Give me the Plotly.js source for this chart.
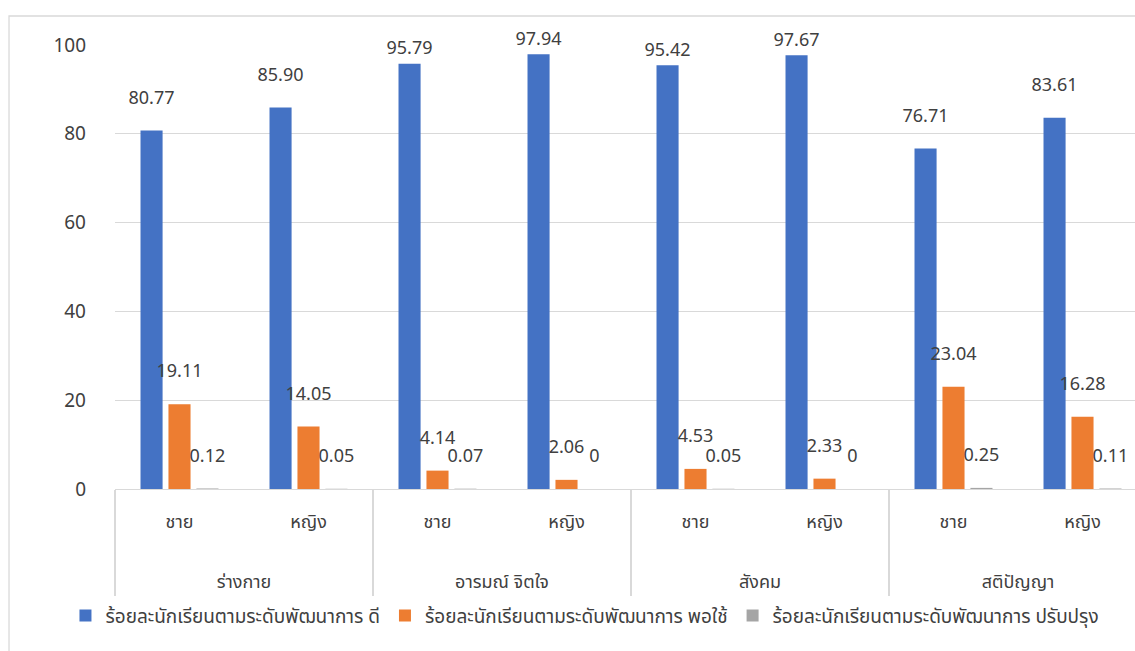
<!DOCTYPE html>
<html>
<head>
<meta charset="utf-8">
<script src="https://cdn.plot.ly/plotly-3.0.1.min.js"></script>
<style>
  html, body { margin: 0; padding: 0; overflow: hidden; background: #ffffff; }
  #chart { position: absolute; left: 0; top: 0; width: 1200px; height: 651px; }
</style>
</head>
<body>
<div id="chart"></div>
<script>
// ---- data ----
const domains = ["ร่างกาย", "ร่างกาย", "อารมณ์ จิตใจ", "อารมณ์ จิตใจ", "สังคม", "สังคม", "สติปัญญา", "สติปัญญา"];
const sexes = ["ชาย", "หญิง", "ชาย", "หญิง", "ชาย", "หญิง", "ชาย", "หญิง"];
const seriesNames = [
  "ร้อยละนักเรียนตามระดับพัฒนาการ ดี",
  "ร้อยละนักเรียนตามระดับพัฒนาการ พอใช้",
  "ร้อยละนักเรียนตามระดับพัฒนาการ ปรับปรุง"
];
const good = [80.77, 85.90, 95.79, 97.94, 95.42, 97.67, 76.71, 83.61];
const fair = [19.11, 14.05, 4.14, 2.06, 4.53, 2.33, 23.04, 16.28];
const improve = [0.12, 0.05, 0.07, 0, 0.05, 0, 0.25, 0.11];
const yTicks = [0, 20, 40, 60, 80, 100];

// ---- style ----
const colors = ["#4472C4", "#ED7D31", "#A5A5A5"];
const FONT = "'Noto Sans Thai', 'Leelawadee UI', Tahoma, 'Noto Sans', sans-serif";
const txtColor = "#404040";
const gridColor = "#d9d9d9";

function fmt(v) { return v === 0 ? "0" : v.toFixed(2); }
// outer category labels sit lower, below the inner row
const outerLabels = domains.map(d => "<br><br>" + d);

const allSeries = [good, fair, improve];
const barTraces = allSeries.map((vals, i) => ({
  type: "bar",
  name: seriesNames[i],
  x: [outerLabels, sexes],
  y: vals,
  marker: { color: colors[i] },
  hoverinfo: "y"
}));
// value labels, aligned with the grouped bars (Excel keeps the tallest ones closer)
const labelTraces = allSeries.map((vals, i) => ({
  type: "scatter",
  mode: "markers+text",
  showlegend: false,
  x: [outerLabels, sexes],
  y: vals,
  text: vals.map(fmt),
  textposition: "top center",
  textfont: { family: FONT, size: 18, color: txtColor },
  marker: { size: vals.map(v => v > 90 ? 6 : 34), opacity: 0, color: colors[i] },
  cliponaxis: false,
  hoverinfo: "skip"
}));

const layout = {
  width: 1200,
  height: 651,
  margin: { l: 115, r: 53, t: 45, b: 162 },
  paper_bgcolor: "#ffffff",
  plot_bgcolor: "#ffffff",
  font: { family: FONT, size: 18, color: txtColor },
  barmode: "group",
  bargap: 0.35,
  bargroupgap: 0.21,
  scattermode: "group",
  scattergap: 0.35,
  showlegend: true,
  legend: {
    orientation: "h",
    x: -0.048, xanchor: "left",
    y: -0.285, yanchor: "middle",
    font: { family: FONT, size: 19, color: txtColor },
    itemclick: false
  },
  xaxis: {
    type: "multicategory",
    showline: true,
    linecolor: gridColor,
    linewidth: 1.3,
    showgrid: false,
    ticks: "",
    dividercolor: gridColor,
    dividerwidth: 1.3,
    tickfont: { family: FONT, size: 18, color: txtColor },
    ticklabelstandoff: 16
  },
  yaxis: {
    range: [0, 100],
    tickvals: yTicks,
    ticktext: yTicks.map(String),
    showgrid: true,
    gridcolor: gridColor,
    gridwidth: 1.3,
    zeroline: false,
    showline: false,
    ticks: "",
    tickfont: { family: FONT, size: 19, color: txtColor },
    ticklabelstandoff: 28
  },
  shapes: [{
    type: "rect",
    xref: "paper", yref: "paper",
    x0: -0.1027, x1: 1.0,
    y0: -0.5, y1: 1.0653,
    line: { color: gridColor, width: 1.3 },
    fillcolor: "rgba(0,0,0,0)",
    layer: "below"
  }]
};

Plotly.newPlot("chart", barTraces.concat(labelTraces), layout, { displayModeBar: false, staticPlot: true });
</script>
</body>
</html>
